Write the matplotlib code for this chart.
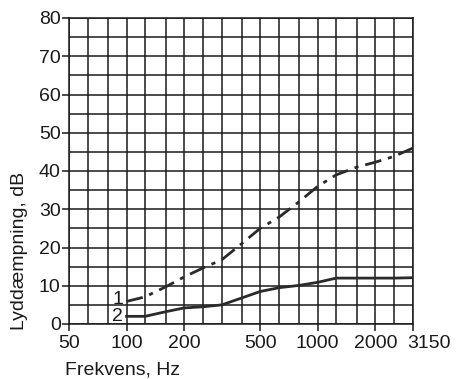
#
#  file: plot.py
#
#  Sound reduction vs frequency, two constructions
#
################################################################

import numpy as np
import matplotlib
matplotlib.use("Agg")
import matplotlib.pylab as plt
import matplotlib.transforms as mtrans
from matplotlib.ticker import FixedLocator, NullFormatter

#  third-octave bands
bands = [50, 63, 80, 100, 125, 160, 200, 250, 315, 400, 500,
         630, 800, 1000, 1250, 1600, 2000, 2500, 3150]

#  measured curves start at 100 Hz
freq = [100, 125, 160, 200, 250, 315, 400, 500, 630, 800,
        1000, 1250, 1600, 2000, 2500, 3150]
curve1 = [5.9, 7.1, 9.7, 12.3, 14.6, 16.8, 21.0, 25.0, 28.0, 32.0,
          36.0, 39.0, 41.0, 42.3, 43.8, 46.0]
curve2 = [2.0, 2.0, 3.2, 4.2, 4.5, 5.0, 6.8, 8.5, 9.5, 10.1,
          10.9, 12.0, 12.0, 12.0, 12.0, 12.1]

xticks = [50, 100, 200, 500, 1000, 2000, 3150]
yticks = list(range(0, 81, 10))

plt.rcParams['font.family'] = ['Liberation Sans', 'DejaVu Sans']
fs = 14
ink = '#1a1a1a'

fig = plt.figure(figsize=(4.57, 3.79), dpi=100)
ax = fig.add_axes([69/457, 1-324/379, 344/457, 306/379])

ax.set_xscale('log')
ax.set_xlim(50, 3150)
ax.set_ylim(0, 80)

#  grid: every band, every 5 dB
ax.xaxis.set_major_locator(FixedLocator(xticks))
ax.xaxis.set_minor_locator(FixedLocator(bands))
ax.xaxis.set_minor_formatter(NullFormatter())
ax.set_xticklabels([str(t) for t in xticks])
ax.yaxis.set_major_locator(FixedLocator(yticks))
ax.yaxis.set_minor_locator(FixedLocator(list(range(0, 81, 5))))
ax.grid(which='both', color=ink, linewidth=1.1)
ax.set_axisbelow(True)

ax.tick_params(which='major', direction='out', length=5, width=1.1,
               color=ink, labelsize=fs, labelcolor=ink)
ax.tick_params(axis='x', pad=3)
ax.tick_params(axis='y', pad=1)
ax.tick_params(which='minor', length=0)
for s in ax.spines.values():
    s.set_color(ink)
    s.set_linewidth(1.1)

#  last label sits right of its tick
lab = ax.get_xticklabels()[-1]
lab.set_transform(lab.get_transform() +
                  mtrans.ScaledTranslation(16/100, 0, fig.dpi_scale_trans))

#  curves
ax.plot(freq, curve1, color='#2a2a2a', linewidth=2.0,
        dashes=(6, 2.5, 1.5, 2.5))
ax.plot(freq, curve2, color='#2a2a2a', linewidth=2.0)

#  curve labels
ax.text(96, 6.5, '1', fontsize=fs, color=ink, ha='right', va='center')
ax.text(96, curve2[0], '2', fontsize=fs, color=ink, ha='right', va='center')

#  axis titles
fig.text(20/457, 1-251/379, 'Lyddæmpning, dB', rotation=90, fontsize=fs,
         color=ink, ha='center', va='center')
fig.text(65/457, 1-370/379, 'Frekvens, Hz', fontsize=fs, color=ink,
         ha='left', va='center')

plt.savefig('out.png', dpi=100)
